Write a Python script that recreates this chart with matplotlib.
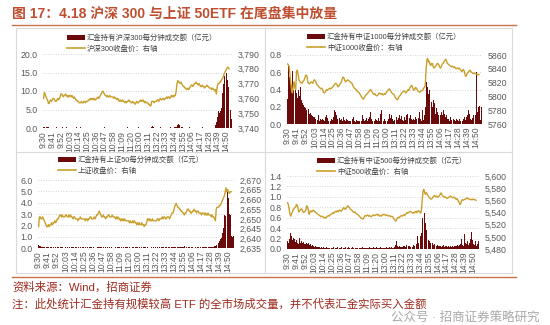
import numpy as np
import matplotlib
matplotlib.use('Agg')
import matplotlib.pyplot as plt
from matplotlib.patches import Patch
from matplotlib.lines import Line2D
from matplotlib.ticker import FuncFormatter, MultipleLocator

plt.rcParams['font.family'] = ['Liberation Sans', 'Noto Sans CJK SC']

# x tick labels, one every 11 minutes
time_labels = ['9:30', '9:41', '9:52', '10:03', '10:14', '10:25', '10:36', '10:47', '10:58',
               '11:09', '11:20', '13:00', '13:11', '13:22', '13:33', '13:44', '13:55',
               '14:06', '14:17', '14:28', '14:39', '14:50']

# --- 沪深300 ---
hs300_amount = [
    0.4, 0.3, 0.3, 0.2, 0.2, 0.3, 0.2, 0.1, 0.2, 0.1, 0.1,
    0.1, 0.2, 0.1, 0.1, 0.1, 0.2, 0.1, 0.1, 0.1, 0.1, 0.2,
    0.1, 0.1, 0.2, 0.1, 0.1, 0.1, 0.1, 0.2, 0.1, 0.1, 0.1,
    0.1, 0.1, 0.1, 0.2, 0.1, 0.1, 0.1, 0.1, 0.1, 0.2, 0.1,
    0.1, 0.2, 0.4, 0.2, 0.1, 0.1, 0.1, 0.1, 0.1, 0.1, 0.1,
    0.1, 0.1, 0.1, 0.1, 0.2, 0.1, 0.1, 0.1, 0.1, 0.1, 0.1,
    0.1, 0.1, 0.1, 0.2, 0.1, 0.1, 0.1, 0.1, 0.2, 0.1, 0.1,
    0.2, 0.1, 0.1, 0.1, 0.1, 0.1, 0.1, 0.1, 0.1, 0.1, 0.1,
    0.1, 0.1, 0.1, 0.1, 0.1, 0.2, 0.1, 0.1, 0.1, 0.1, 0.1,
    0.1, 0.1, 0.1, 0.1, 0.1, 0.1, 0.1, 0.2, 0.1, 0.1, 0.1,
    0.1, 0.1, 0.1, 0.1, 0.1, 0.1, 0.1, 0.1, 0.1, 0.1, 0.2,
    0.2, 0.1, 0.1, 0.1, 0.1, 0.1, 0.1, 0.1, 0.1, 0.1, 0.1,
    0.1, 0.1, 0.1, 0.1, 0.2, 0.3, 0.5, 0.3, 0.1, 0.1, 0.1,
    0.1, 0.1, 0.1, 0.1, 0.1, 0.2, 0.1, 0.1, 0.1, 0.1, 0.1,
    0.1, 0.2, 0.1, 0.1, 0.1, 0.1, 0.1, 0.2, 0.1, 0.1, 0.1,
    0.1, 0.2, 0.2, 0.3, 0.5, 0.9, 1.2, 0.8, 0.4, 0.3, 0.2,
    0.2, 0.1, 0.1, 0.1, 0.1, 0.1, 0.1, 0.1, 0.1, 0.2, 0.1,
    0.1, 0.1, 0.1, 0.1, 0.1, 0.1, 0.1, 0.1, 0.1, 0.1, 0.1,
    0.1, 0.1, 0.1, 0.2, 0.1, 0.1, 0.1, 0.1, 0.1, 0.1, 0.1,
    0.1, 0.1, 0.1, 0.1, 0.1, 0.1, 0.1, 0.2, 0.3, 0.8, 1.5,
    3.0, 4.5, 4.7, 4.0, 4.5, 5.5, 7.5, 9.5, 12.0, 14.0, 15.5,
    16.2, 15.0, 13.0, 11.0, 9.0, 7.0, 5.0, 2.5]

hs300_close = [
    3760, 3764, 3763, 3761, 3760, 3759, 3757, 3756.5, 3758, 3759, 3758,
    3759, 3760, 3760, 3759, 3758, 3758, 3759, 3760, 3759, 3760, 3761,
    3763, 3763, 3762, 3761, 3762, 3762, 3763, 3762, 3761, 3762, 3761,
    3762, 3762, 3761, 3762, 3761, 3760, 3761, 3760, 3759, 3759, 3758,
    3758, 3757, 3757, 3757, 3758, 3757, 3757, 3758, 3758, 3757, 3758,
    3758, 3758, 3759, 3759, 3760, 3759, 3760, 3760, 3759, 3760, 3759,
    3759, 3760, 3760, 3761, 3760, 3761, 3762, 3763, 3764, 3765, 3764,
    3763, 3762, 3762, 3761, 3762, 3761, 3761, 3762, 3761, 3761, 3761,
    3761, 3760, 3761, 3760, 3760, 3759, 3760, 3759, 3758, 3759, 3758,
    3758, 3759, 3758, 3758, 3757, 3758, 3757, 3758, 3758, 3759, 3758,
    3758, 3757, 3757, 3758, 3757, 3757, 3756, 3757, 3758, 3757, 3757,
    3758, 3758, 3759, 3758, 3758, 3759, 3758, 3757, 3758, 3757, 3757,
    3757, 3756, 3756, 3755, 3755, 3758, 3758, 3758, 3757, 3758, 3758,
    3758, 3759, 3759, 3758, 3759, 3760, 3759, 3759, 3760, 3760, 3759,
    3760, 3760, 3761, 3760, 3761, 3761, 3760, 3761, 3762, 3761, 3762,
    3761, 3762, 3762, 3765, 3770, 3772, 3771, 3771, 3770, 3771, 3770,
    3769, 3768, 3768, 3767, 3767, 3766, 3766, 3767, 3766, 3767, 3768,
    3769, 3769, 3768, 3769, 3770, 3770, 3771, 3770, 3770, 3769, 3770,
    3769, 3768, 3768, 3769, 3768, 3768, 3767, 3768, 3768, 3769, 3768,
    3768, 3767, 3767, 3767, 3766, 3767, 3766, 3766, 3765, 3766, 3763,
    3768, 3770, 3770, 3771, 3771, 3772, 3773, 3774, 3775, 3777, 3778,
    3779, 3780, 3781, 3781, 3780]

# --- 中证1000 ---
zz1000_amount = [
    0.29, 0.68, 0.55, 0.72, 0.50, 0.45, 0.62, 0.40, 0.47, 0.35, 0.42,
    0.36, 0.30, 0.39, 0.33, 0.32, 0.43, 0.28, 0.24, 0.28, 0.22, 0.20,
    0.18, 0.16, 0.14, 0.28, 0.17, 0.12, 0.13, 0.10, 0.11, 0.09, 0.08,
    0.08, 0.06, 0.18, 0.07, 0.05, 0.10, 0.04, 0.06, 0.09, 0.05, 0.06,
    0.05, 0.04, 0.06, 0.08, 0.10, 0.07, 0.04, 0.03, 0.05, 0.04, 0.06,
    0.05, 0.08, 0.04, 0.16, 0.14, 0.10, 0.06, 0.05, 0.04, 0.07, 0.05,
    0.06, 0.04, 0.12, 0.08, 0.05, 0.04, 0.06, 0.09, 0.05, 0.04, 0.03,
    0.04, 0.05, 0.03, 0.06, 0.08, 0.04, 0.02, 0.03, 0.05, 0.04, 0.03,
    0.03, 0.04, 0.05, 0.03, 0.10, 0.06, 0.04, 0.03, 0.05, 0.07, 0.04,
    0.06, 0.04, 0.08, 0.14, 0.06, 0.04, 0.05, 0.03, 0.04, 0.06, 0.05,
    0.04, 0.05, 0.07, 0.04, 0.12, 0.16, 0.08, 0.05, 0.04, 0.06, 0.04,
    0.05, 0.08, 0.04, 0.06, 0.12, 0.07, 0.05, 0.10, 0.06, 0.04, 0.05,
    0.06, 0.04, 0.08, 0.05, 0.07, 0.10, 0.25, 0.06, 0.09, 0.05, 0.04,
    0.06, 0.08, 0.05, 0.10, 0.12, 0.06, 0.04, 0.07, 0.11, 0.06, 0.05,
    0.04, 0.06, 0.05, 0.08, 0.06, 0.04, 0.05, 0.07, 0.14, 0.06, 0.04,
    0.06, 0.16, 0.05, 0.10, 0.20, 0.30, 0.49, 0.43, 0.35, 0.40, 0.30,
    0.32, 0.26, 0.20, 0.28, 0.24, 0.16, 0.12, 0.18, 0.14, 0.10, 0.12,
    0.08, 0.10, 0.14, 0.10, 0.16, 0.32, 0.12, 0.08, 0.10, 0.06, 0.07,
    0.06, 0.04, 0.08, 0.05, 0.07, 0.04, 0.06, 0.05, 0.03, 0.06, 0.04,
    0.05, 0.04, 0.06, 0.03, 0.05, 0.07, 0.04, 0.06, 0.08, 0.05, 0.07,
    0.08, 0.10, 0.16, 0.12, 0.08, 0.06, 0.05, 0.07, 0.10, 0.06, 0.05,
    0.10, 0.60, 0.14, 0.20, 0.19, 0.21, 0.05, 0.20]

zz1000_close = [
    5847, 5846, 5843, 5830, 5819, 5808, 5805, 5816, 5821, 5812, 5810,
    5836, 5838, 5832, 5824, 5822, 5820, 5820, 5819, 5822, 5823, 5826,
    5830, 5831, 5828, 5820, 5819, 5818, 5820, 5821, 5820, 5819, 5823,
    5824, 5823, 5820, 5817, 5816, 5815, 5813, 5812, 5811, 5812, 5810,
    5806, 5805, 5806, 5808, 5810, 5809, 5810, 5811, 5812, 5811, 5812,
    5813, 5815, 5816, 5818, 5819, 5818, 5816, 5814, 5815, 5817, 5819,
    5821, 5825, 5828, 5827, 5824, 5821, 5822, 5823, 5824, 5823, 5822,
    5821, 5820, 5819, 5816, 5814, 5812, 5811, 5810, 5808, 5807, 5806,
    5805, 5803, 5801, 5799, 5797, 5796, 5798, 5800, 5802, 5803, 5804,
    5806, 5807, 5809, 5810, 5808, 5806, 5804, 5803, 5804, 5802, 5801,
    5801, 5802, 5804, 5805, 5804, 5803, 5804, 5802, 5803, 5804, 5803,
    5805, 5807, 5808, 5810, 5811, 5809, 5807, 5805, 5804, 5803, 5802,
    5799, 5797, 5796, 5795, 5798, 5800, 5801, 5803, 5805, 5806, 5807,
    5808, 5807, 5805, 5806, 5808, 5810, 5809, 5812, 5814, 5816, 5815,
    5811, 5809, 5810, 5813, 5812, 5810, 5808, 5807, 5806, 5807, 5808,
    5808, 5809, 5812, 5813, 5816, 5838, 5853, 5855, 5850, 5851, 5846,
    5845, 5848, 5847, 5842, 5841, 5843, 5844, 5846, 5848, 5847, 5845,
    5842, 5841, 5844, 5847, 5848, 5850, 5852, 5854, 5852, 5848, 5847,
    5846, 5845, 5844, 5843, 5844, 5843, 5842, 5843, 5841, 5840, 5841,
    5841, 5840, 5841, 5839, 5837, 5836, 5838, 5839, 5836, 5831, 5829,
    5832, 5834, 5835, 5837, 5838, 5836, 5835, 5834, 5833, 5834, 5833,
    5833, 5832, 5832, 5831, 5832]

# --- 上证50 ---
sz50_amount = [
    0.30, 0.20, 0.15, 0.12, 0.10, 0.08, 0.10, 0.06, 0.08, 0.05, 0.06,
    0.05, 0.06, 0.04, 0.05, 0.08, 0.05, 0.04, 0.05, 0.06, 0.04, 0.05,
    0.04, 0.05, 0.06, 0.05, 0.04, 0.05, 0.10, 0.05, 0.04, 0.05, 0.04,
    0.05, 0.04, 0.06, 0.05, 0.04, 0.05, 0.04, 0.06, 0.05, 0.04, 0.05,
    0.04, 0.05, 0.08, 0.05, 0.04, 0.05, 0.04, 0.05, 0.04, 0.06, 0.05,
    0.05, 0.04, 0.05, 0.06, 0.04, 0.05, 0.04, 0.05, 0.06, 0.04, 0.05,
    0.04, 0.05, 0.04, 0.06, 0.05, 0.04, 0.05, 0.12, 0.06, 0.04, 0.05,
    0.05, 0.04, 0.05, 0.04, 0.06, 0.05, 0.04, 0.05, 0.04, 0.05, 0.06,
    0.04, 0.05, 0.04, 0.05, 0.06, 0.04, 0.05, 0.04, 0.05, 0.04, 0.05,
    0.05, 0.04, 0.06, 0.05, 0.04, 0.05, 0.04, 0.05, 0.06, 0.04, 0.05,
    0.04, 0.05, 0.04, 0.05, 0.04, 0.06, 0.05, 0.04, 0.05, 0.04, 0.05,
    0.05, 0.04, 0.06, 0.20, 0.08, 0.05, 0.04, 0.05, 0.06, 0.04, 0.05,
    0.04, 0.05, 0.04, 0.06, 0.05, 0.04, 0.05, 0.04, 0.06, 0.05, 0.04,
    0.05, 0.04, 0.05, 0.06, 0.04, 0.05, 0.04, 0.06, 0.05, 0.04, 0.05,
    0.04, 0.05, 0.06, 0.05, 0.04, 0.05, 0.06, 0.04, 0.05, 0.06, 0.05,
    0.06, 0.05, 0.08, 0.06, 0.10, 0.08, 0.06, 0.05, 0.06, 0.05, 0.06,
    0.05, 0.06, 0.15, 0.08, 0.05, 0.06, 0.04, 0.05, 0.06, 0.05, 0.04,
    0.05, 0.06, 0.04, 0.05, 0.06, 0.05, 0.04, 0.05, 0.06, 0.05, 0.04,
    0.05, 0.04, 0.06, 0.05, 0.04, 0.05, 0.06, 0.05, 0.04, 0.35, 0.10,
    0.05, 0.08, 0.06, 0.10, 0.08, 0.12, 0.15, 0.20, 0.25, 0.30, 0.40,
    0.45, 0.60, 0.80, 0.90, 1.10, 1.30, 1.80, 2.90, 2.80, 3.00, 4.20,
    4.90, 4.40, 3.00, 2.90, 1.00, 1.10, 1.00, 1.10]

sz50_close = [
    2646, 2651, 2651, 2650, 2650, 2651, 2650, 2649, 2648, 2647, 2646,
    2646, 2647, 2646, 2647, 2647, 2648, 2647, 2648, 2648, 2649, 2648,
    2649, 2650, 2650, 2651, 2652, 2652, 2651, 2652, 2651, 2651, 2651,
    2652, 2652, 2651, 2651, 2652, 2651, 2652, 2651, 2651, 2650, 2651,
    2651, 2650, 2650, 2650, 2649, 2650, 2650, 2651, 2650, 2650, 2650,
    2650, 2650, 2649, 2650, 2650, 2649, 2650, 2650, 2651, 2651, 2650,
    2650, 2650, 2651, 2650, 2651, 2652, 2652, 2653, 2654, 2653, 2652,
    2651, 2651, 2652, 2651, 2651, 2650, 2651, 2651, 2652, 2652, 2651,
    2651, 2651, 2652, 2651, 2651, 2651, 2650, 2651, 2650, 2651, 2650,
    2650, 2649, 2650, 2649, 2650, 2649, 2650, 2649, 2649, 2649, 2649,
    2649, 2648, 2649, 2648, 2648, 2649, 2648, 2649, 2648, 2648, 2647,
    2648, 2647, 2648, 2647, 2647, 2648, 2647, 2647, 2646, 2647, 2647,
    2648, 2650, 2650, 2649, 2650, 2649, 2649, 2650, 2649, 2649, 2649,
    2649, 2649, 2650, 2650, 2649, 2650, 2650, 2650, 2651, 2650, 2651,
    2651, 2650, 2650, 2651, 2651, 2651, 2650, 2651, 2652, 2653, 2653,
    2654, 2656, 2657, 2658, 2657, 2656, 2656, 2655, 2655, 2654, 2654,
    2653, 2653, 2652, 2653, 2653, 2654, 2655, 2655, 2654, 2654, 2653,
    2653, 2654, 2654, 2655, 2654, 2654, 2653, 2654, 2654, 2653, 2653,
    2653, 2652, 2653, 2653, 2653, 2652, 2653, 2652, 2652, 2653, 2652,
    2652, 2652, 2651, 2652, 2651, 2651, 2650, 2649, 2655, 2656, 2656,
    2656, 2657, 2657, 2658, 2659, 2660, 2661, 2662, 2664, 2666, 2664,
    2665, 2664, 2663, 2664, 2664]

# --- 中证500 ---
zz500_amount = [
    0.15, 0.12, 0.20, 0.37, 0.30, 0.25, 0.18, 0.22, 0.16, 0.20, 0.14,
    0.18, 0.12, 0.14, 0.10, 0.21, 0.12, 0.15, 0.10, 0.12, 0.14, 0.09,
    0.10, 0.08, 0.12, 0.09, 0.11, 0.07, 0.08, 0.10, 0.06, 0.07, 0.05,
    0.06, 0.04, 0.05, 0.03, 0.04, 0.02, 0.03, 0.04, 0.02, 0.03, 0.02,
    0.02, 0.03, 0.02, 0.01, 0.02, 0.03, 0.02, 0.02, 0.01, 0.02, 0.02,
    0.02, 0.01, 0.03, 0.02, 0.02, 0.01, 0.02, 0.03, 0.02, 0.01, 0.02,
    0.02, 0.03, 0.02, 0.04, 0.02, 0.02, 0.03, 0.01, 0.02, 0.02, 0.03,
    0.02, 0.01, 0.02, 0.02, 0.03, 0.02, 0.01, 0.02, 0.02, 0.01, 0.02,
    0.01, 0.02, 0.02, 0.01, 0.02, 0.03, 0.02, 0.01, 0.02, 0.02, 0.01,
    0.02, 0.01, 0.02, 0.03, 0.02, 0.02, 0.01, 0.02, 0.03, 0.02, 0.02,
    0.02, 0.03, 0.02, 0.01, 0.02, 0.02, 0.03, 0.02, 0.02, 0.01, 0.02,
    0.02, 0.02, 0.03, 0.02, 0.01, 0.02, 0.03, 0.02, 0.02, 0.03, 0.02,
    0.02, 0.03, 0.05, 0.08, 0.15, 0.06, 0.04, 0.03, 0.05, 0.03, 0.04,
    0.03, 0.04, 0.06, 0.05, 0.04, 0.07, 0.05, 0.04, 0.06, 0.05, 0.04,
    0.05, 0.06, 0.04, 0.07, 0.05, 0.08, 0.06, 0.10, 0.24, 0.12, 0.08,
    0.10, 0.25, 0.30, 0.60, 0.95, 1.15, 0.70, 0.50, 0.37, 0.30, 0.20,
    0.18, 0.15, 0.12, 0.16, 0.10, 0.12, 0.08, 0.10, 0.07, 0.09, 0.06,
    0.08, 0.06, 0.05, 0.07, 0.06, 0.04, 0.05, 0.07, 0.05, 0.04, 0.06,
    0.05, 0.04, 0.06, 0.05, 0.03, 0.05, 0.04, 0.06, 0.05, 0.04, 0.05,
    0.05, 0.04, 0.06, 0.08, 0.05, 0.07, 0.15, 0.10, 0.20, 0.08, 0.06,
    0.08, 0.28, 0.12, 0.09, 0.15, 0.10, 0.08, 0.12, 0.20, 0.32, 0.25,
    0.18, 0.10, 0.08, 0.15, 0.12, 0.06, 0.10, 0.16]

zz500_close = [
    5556, 5553, 5545, 5537, 5534, 5538, 5541, 5545, 5546, 5548, 5549,
    5553, 5552, 5548, 5541, 5543, 5544, 5546, 5545, 5542, 5540, 5541,
    5542, 5545, 5551, 5549, 5543, 5537, 5541, 5543, 5541, 5542, 5544,
    5543, 5541, 5540, 5539, 5538, 5537, 5536, 5535, 5534, 5533, 5534,
    5533, 5532, 5531, 5532, 5531, 5533, 5534, 5535, 5534, 5536, 5537,
    5538, 5538, 5540, 5539, 5541, 5542, 5541, 5543, 5541, 5543, 5544,
    5543, 5542, 5544, 5546, 5548, 5547, 5545, 5547, 5549, 5551, 5550,
    5548, 5546, 5545, 5544, 5542, 5541, 5540, 5541, 5539, 5538, 5537,
    5536, 5535, 5533, 5532, 5531, 5530, 5529, 5531, 5534, 5535, 5534,
    5535, 5536, 5534, 5535, 5534, 5533, 5534, 5535, 5536, 5535, 5535,
    5536, 5537, 5536, 5537, 5535, 5534, 5535, 5534, 5536, 5537, 5536,
    5537, 5536, 5535, 5536, 5535, 5534, 5535, 5534, 5533, 5534, 5533,
    5531, 5529, 5527, 5526, 5528, 5531, 5532, 5531, 5533, 5534, 5535,
    5534, 5535, 5536, 5535, 5537, 5538, 5540, 5539, 5540, 5541, 5542,
    5541, 5540, 5539, 5540, 5539, 5541, 5542, 5540, 5541, 5543, 5542,
    5541, 5539, 5545, 5562, 5576, 5578, 5572, 5570, 5573, 5570, 5568,
    5566, 5564, 5563, 5562, 5563, 5565, 5566, 5568, 5567, 5566, 5567,
    5565, 5566, 5567, 5569, 5572, 5571, 5568, 5567, 5565, 5566, 5565,
    5564, 5563, 5564, 5565, 5566, 5567, 5566, 5565, 5564, 5565, 5565,
    5563, 5562, 5563, 5561, 5559, 5556, 5553, 5555, 5560, 5561, 5560,
    5561, 5562, 5562, 5563, 5564, 5563, 5562, 5562, 5561, 5561, 5562,
    5561, 5562, 5561, 5561, 5560]

BAR_COLOR = '#6B0A0A'
LINE_COLOR = '#C9A02C'
TXT = '#595959'
W, H = 550, 325


def fx(px):
    return px / W


def fy(px):
    return 1 - px / H


panels = [
    dict(rect=(43, 54, 232, 128), bars=hs300_amount, line=hs300_close,
         left=(0, 20, 5, '{:.1f}'), right=(3740, 3790, 10, '{:,.0f}'),
         labels=['汇金持有沪深300每分钟成交额（亿元）', '沪深300收盘价：右轴'], leg=(67, 34)),
    dict(rect=(287, 55, 482, 124), bars=zz1000_amount, line=zz1000_close,
         left=(0, 0.8, 0.2, '{:.1f}'), right=(5760, 5860, 20, '{:.0f}'),
         labels=['汇金持有中证1000每分钟成交额（亿元）', '中证1000收盘价：右轴'], leg=(307, 33)),
    dict(rect=(38, 180, 234, 248), bars=sz50_amount, line=sz50_close,
         left=(0, 6, 1, '{:.1f}'), right=(2635, 2670, 5, '{:,.0f}'),
         labels=['汇金持有上证50每分钟成交额（亿元）', '上证收盘价：右轴'], leg=(58, 156)),
    dict(rect=(287, 176, 479, 249), bars=zz500_amount, line=zz500_close,
         left=(0, 1.4, 0.2, '{:.1f}'), right=(5480, 5600, 20, '{:,.0f}'),
         labels=['汇金持有中证500每分钟成交额（亿元）', '中证500收盘价：右轴'], leg=(317, 157)),
]

fig = plt.figure(figsize=(5.5, 3.25), dpi=100)

for p in panels:
    x0, y0, x1, y1 = p['rect']
    ax = fig.add_axes([fx(x0), fy(y1), (x1 - x0) / W, (y1 - y0) / H])
    xb = np.arange(len(p['bars']))
    ax.bar(xb, p['bars'], width=0.9, color=BAR_COLOR, linewidth=0, zorder=2)
    lo, hi, step, fmt = p['left']
    ax.set_ylim(lo, hi)
    ax.yaxis.set_major_locator(MultipleLocator(step))
    ax.yaxis.set_major_formatter(FuncFormatter(lambda v, pos, f=fmt: f.format(v)))
    ax.set_xlim(-0.7, 238.7)
    ax.set_xticks(np.arange(len(time_labels)) * 11)
    ax.set_xticklabels(time_labels, rotation=90)
    ax.yaxis.grid(True, linestyle=(0, (1, 2)), color='#C8C8C8', linewidth=0.6, zorder=0)
    ax.set_axisbelow(True)
    ax.tick_params(axis='both', length=0, labelsize=6.3, colors=TXT, pad=4)
    ax.tick_params(axis='x', labelsize=6.2, pad=2)

    ax2 = ax.twinx()
    xl = np.arange(len(p['line']))
    ax2.plot(xl, p['line'], color=LINE_COLOR, linewidth=1.0)
    lo, hi, step, fmt = p['right']
    ax2.set_ylim(lo, hi)
    ax2.yaxis.set_major_locator(MultipleLocator(step))
    ax2.yaxis.set_major_formatter(FuncFormatter(lambda v, pos, f=fmt: f.format(v)))
    ax2.tick_params(axis='y', length=0, labelsize=6.3, colors=TXT, pad=4)
    for a in (ax, ax2):
        for s in a.spines.values():
            s.set_visible(False)

    handles = [Patch(facecolor=BAR_COLOR, edgecolor='none'),
               Line2D([0], [0], color=LINE_COLOR, linewidth=1.2)]
    fig.legend(handles, p['labels'], loc='upper left',
               bbox_to_anchor=(fx(p['leg'][0]), fy(p['leg'][1])),
               frameon=False, fontsize=5.3, handlelength=2.5, handletextpad=0.2,
               labelspacing=0.5, borderpad=0, borderaxespad=0, labelcolor='#404040')

# panel frames
grid_col = '#D9D9D9'
for xs, ys in [((16, 512), (28, 28)), ((16, 512), (152, 152)), ((16, 512), (273, 273)),
               ((16, 16), (28, 273)), ((265, 265), (28, 273)), ((512, 512), (28, 273))]:
    fig.add_artist(Line2D([fx(xs[0]), fx(xs[1])], [fy(ys[0]), fy(ys[1])],
                          color=grid_col, linewidth=0.8))

# title and rules
fig.text(fx(12), fy(14), '图 17：4.18 沪深 300 与上证 50ETF 在尾盘集中放量',
         fontsize=10, fontweight='bold', color='#BF4E30', va='center', ha='left')
for yy in (25, 277):
    fig.add_artist(Line2D([fx(12), fx(516)], [fy(yy), fy(yy)], color='#C8714F', linewidth=1.0))

fig.text(fx(12), fy(287), '资料来源：Wind，招商证券', fontsize=8.2, color='#9C2A1E',
         va='center', ha='left')
fig.text(fx(12), fy(304), '注：此处统计汇金持有规模较高 ETF 的全市场成交量，并不代表汇金实际买入金额',
         fontsize=8.2, color='#9C2A1E', va='center', ha='left')
# watermark, kept just below the note so the two do not collide
fig.text(fx(540), fy(318), '公众号 · 招商证券策略研究', fontsize=9, color='#9A9A9A',
         alpha=0.85, va='center', ha='right')

fig.savefig('out.png', dpi=100)
